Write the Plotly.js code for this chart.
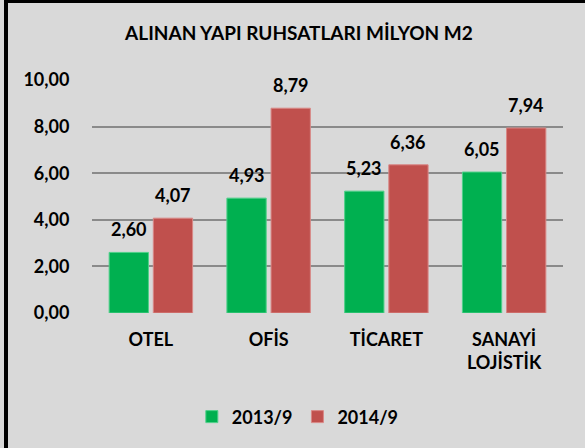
<!DOCTYPE html>
<html>
<head>
<meta charset="utf-8">
<script src="https://cdn.plot.ly/plotly-3.0.1.min.js"></script>
<style>
  html, body { margin: 0; padding: 0; background: #ffffff; }
  #wrap { position: relative; width: 585px; height: 448px; overflow: hidden; }
  #chart { position: absolute; left: 0; top: 0; width: 585px; height: 448px; }
  #frame { position: absolute; left: 4px; top: 0; width: 581px; height: 448px;
           border-left: 4px solid #000; border-top: 3px solid #000; box-sizing: border-box;
           pointer-events: none; }
</style>
</head>
<body>
<div id="wrap">
  <div id="chart"></div>
  <div id="frame"></div>
</div>
<script>
const categories = ['OTEL', 'OFİS', 'TİCARET', 'SANAYİ<br>LOJİSTİK'];
const series2013 = [2.60, 4.93, 5.23, 6.05];
const series2014 = [4.07, 8.79, 6.36, 7.94];
const seriesNames = ['2013/9', '2014/9'];
const yTicks = [0, 2, 4, 6, 8, 10];

const FONT = 'Lato, "Open Sans", "DejaVu Sans", sans-serif';
const fmt = v => v.toFixed(2).replace('.', ',');

const traces = [
  { type: 'bar', name: seriesNames[0], x: categories, y: series2013,
    marker: { color: '#00B050', line: { color: '#4FD08A', width: 1 } }, hoverinfo: 'none' },
  { type: 'bar', name: seriesNames[1], x: categories, y: series2014,
    marker: { color: '#C0504D', line: { color: '#D98886', width: 1 } }, hoverinfo: 'none' }
];

const annotations = [];
[[series2013, -22], [series2014, 22]].forEach(([vals, dx]) => {
  vals.forEach((v, i) => {
    annotations.push({
      x: categories[i], y: v, xref: 'x', yref: 'y', text: fmt(v), showarrow: false,
      xshift: dx, yshift: 23, yanchor: 'middle', xanchor: 'center',
      font: { family: FONT, size: 18, color: '#000', weight: 'bold' }
    });
  });
});

const layout = {
  width: 585, height: 448,
  paper_bgcolor: '#D9D9D9', plot_bgcolor: '#D9D9D9',
  margin: { l: 92, r: 22, t: 80, b: 135 },
  separators: ', ',
  title: { text: '<b>ALINAN YAPI RUHSATLARI MİLYON M2</b>', xref: 'container', yref: 'container',
           x: 0.511, y: 0.926, xanchor: 'center', yanchor: 'middle',
           font: { family: FONT, size: 19, color: '#000' } },
  barmode: 'group', bargap: 0.25, bargroupgap: 0.11,
  xaxis: { type: 'category', showgrid: false, zeroline: false, showline: false,
           ticks: 'outside', ticklen: 10, tickcolor: 'rgba(0,0,0,0)',
           tickfont: { family: FONT, size: 18, color: '#000', weight: 'bold' } },
  yaxis: { range: [0, 10], tickvals: yTicks, ticktext: yTicks.map(fmt),
           showgrid: true, gridcolor: '#8A8A8A', gridwidth: 2, zeroline: false,
           showline: false, ticks: 'outside', ticklen: 18, tickcolor: 'rgba(0,0,0,0)',
           tickfont: { family: FONT, size: 18, color: '#000', weight: 'bold' } },
  showlegend: true,
  legend: { orientation: 'h', x: 0.437, y: -0.446, xanchor: 'center', yanchor: 'middle',
            bgcolor: 'rgba(0,0,0,0)', font: { family: FONT, size: 18, color: '#000', weight: 'bold' },
            itemwidth: 30, traceorder: 'normal' },
  annotations: annotations
};

Plotly.newPlot('chart', traces, layout, { staticPlot: true, displayModeBar: false });
</script>
</body>
</html>
